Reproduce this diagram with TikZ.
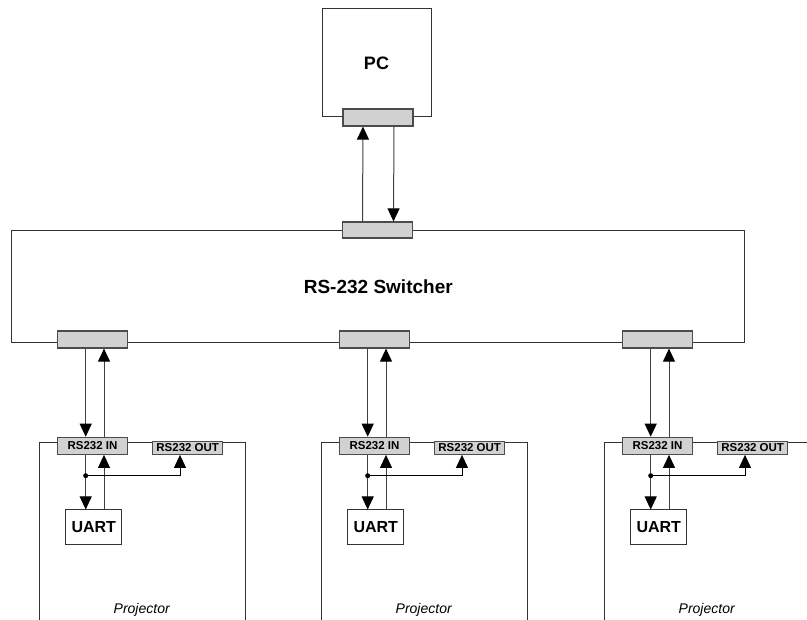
\documentclass[tikz,border=0pt]{standalone}
\usepackage{fontspec}
\setmainfont{Liberation Sans}
\usetikzlibrary{arrows.meta,positioning}

\begin{document}
\begin{tikzpicture}[x=1pt, y=-1pt,
    frame/.style={draw=black!80, line width=1pt},
    box/.style={draw=black!80, line width=1pt, inner sep=0pt, font=\bfseries\fontsize{18}{18}\selectfont},
    port/.style={draw=black!70, line width=1.2pt, fill=black!18, minimum width=70pt, minimum height=17pt, inner sep=0pt, font=\bfseries\fontsize{11.5}{11.5}\selectfont},
    unit/.style={draw=black!80, line width=1pt, minimum width=56pt, minimum height=35pt, inner sep=0pt, font=\bfseries\fontsize{16}{16}\selectfont},
    arr/.style={-{Triangle[length=13pt, width=12pt, color=black]}, line width=1pt, draw=black!75}
]
\clip (0,0) rectangle (807,620);

% PC and switcher
\node[box, minimum width=109pt, minimum height=108pt] (pc) at (376.5,63) {PC};
\node[box, minimum width=733pt, minimum height=111.6pt, font=\bfseries\fontsize{19}{19}\selectfont] (sw) at (378.3,286.5) {RS-232 Switcher};
\node[port] (pcp) at (378,117.5) {};
\node[port, minimum height=16pt] (swtop) at (377.5,230) {};

\draw[arr] ([xshift=-15pt]swtop.north) -- ([xshift=-15pt]pcp.south);
\draw[arr] ([xshift=16pt]pcp.south) -- ([xshift=16pt]swtop.north);

% three projectors
\foreach \dx/\n in {0/1, 282/2, 565/3}{
  \draw[frame] ({39.3+\dx},625) -- ({39.3+\dx},442.3) -- ({245+\dx},442.3) -- ({245+\dx},625);
  \node[port] (swp\n) at ({92.5+\dx},339.5) {};
  \node[port] (in\n) at ({92.5+\dx},445.8) {RS232 IN};
  \node[port, minimum height=12.6pt] (out\n) at ({187.7+\dx},448) {RS232 OUT};
  \node[unit] (uart\n) at ({93.8+\dx},527.5) {UART};
  \node[font=\itshape\fontsize{14}{14}\selectfont] (lbl\n) at ({141.7+\dx},610) {Projector};
  \coordinate (dot\n) at ({85.7+\dx},475.7);

  \draw[arr] ([xshift=-6.8pt]swp\n.south) -- ([xshift=-6.8pt]in\n.north);
  \draw[arr] ([xshift=11.5pt]in\n.north) -- ([xshift=11.5pt]swp\n.south);
  \draw[arr] ([xshift=-6.8pt]in\n.south) -- ([xshift=-8.1pt]uart\n.north);
  \draw[arr] ([xshift=10.2pt]uart\n.north) -- ([xshift=11.5pt]in\n.south);
  \draw[arr, draw=black] (dot\n) -| ([xshift=-7.7pt]out\n.south);
  \fill (dot\n) circle (2.5pt);
}
\end{tikzpicture}
\end{document}
